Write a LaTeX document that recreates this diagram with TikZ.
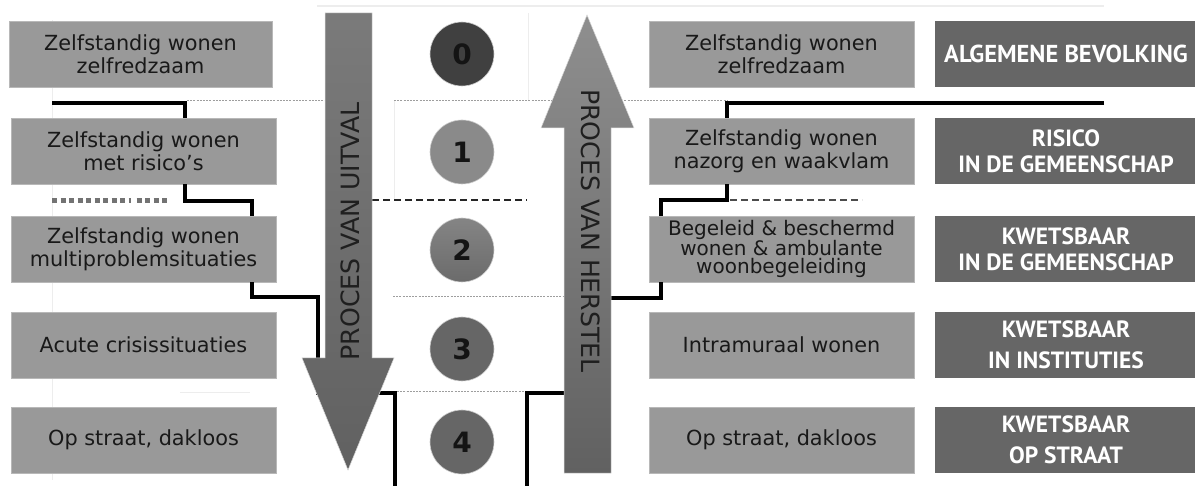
\documentclass[tikz,border=0pt]{standalone}
\usepackage{fontspec}
\setmainfont{DejaVu Sans}
\newfontfamily\capsfont{PT Sans}
\definecolor{lightbox}{gray}{0.60}
\definecolor{lightedge}{gray}{0.72}
\definecolor{darkbox}{gray}{0.40}
\definecolor{boxtext}{gray}{0.10}
\definecolor{dotgray}{gray}{0.62}
\definecolor{faint}{gray}{0.93}
\begin{document}
\begin{tikzpicture}[x=1pt,y=-1pt,
  lbox/.style={draw=lightedge, line width=0.8, fill=lightbox, minimum width=265, minimum height=66,
    inner sep=0, align=center, text=boxtext, font=\fontsize{20.8}{23}\selectfont},
  dbox/.style={fill=darkbox, minimum width=262, minimum height=66, inner sep=0, align=center,
    text=white, font=\capsfont\bfseries\fontsize{23.5}{26}\selectfont},
  num/.style={circle, minimum size=64, inner sep=0, draw=white!80!black, line width=0.6,
    font=\bfseries\fontsize{28}{28}\selectfont, text=black!92},
  conn/.style={draw=black, line width=4, line join=miter},
  dotline/.style={draw=dotgray, line width=1, dash pattern=on 2 off 1.2},
  dashblk/.style={draw=black!85, line width=1.6, dash pattern=on 7 off 4},
  arrtext/.style={inner sep=0, text=black!88, font=\fontsize{25.2}{25}\selectfont},
]
\useasboundingbox (0,0) rectangle (1195,486);

% faint guide lines
\draw[faint, line width=2] (317,6) -- (1104,6);
\draw[faint, line width=0.6] (394,100) -- (394,200);
\draw[faint, line width=0.6] (528,13) -- (528,100);
\draw[faint, line width=0.6] (52,20) -- (52,480);
\draw[faint, line width=0.6] (180,392) -- (250,392);

% dotted and dashed separators
\draw[dotline] (187,101) -- (325,101);
\draw[dotline] (394,101) -- (727,101);
\draw[dotline] (393,297) -- (564,297);
\draw[dotline] (397,392) -- (527,392);
\draw[dashblk] (372,200) -- (527,200);
\draw[dashblk, draw=black!70] (730,200) -- (862,200);
\draw[draw=black!55, line width=5, dash pattern=on 5 off 3.5 on 5 off 3.5 on 5 off 3.5 on 5 off 3.5 on 5 off 3.5 on 5 off 3.5 on 5 off 3.5 on 5 off 3.5 on 5 off 3.5 on 2 off 6] (52,201) -- (167,201);

% left boxes
\node[lbox, minimum width=263] (L0) at (140.5,54) {Zelfstandig wonen\\zelfredzaam};
\node[lbox] (L1) at (143.5,151) {Zelfstandig wonen\\met risico’s};
\node[lbox] (L2) at (143.5,249) {Zelfstandig wonen\\multiproblemsituaties};
\node[lbox] (L3) at (143.5,345) {Acute crisissituaties};
\node[lbox] (L4) at (143.5,440) {Op straat, dakloos};

% right boxes
\node[lbox] (R0) at (781.5,54) {Zelfstandig wonen\\zelfredzaam};
\node[lbox] (R1) at (781.5,151) {Zelfstandig wonen\\nazorg en waakvlam};
\node[lbox, font=\fontsize{20}{18.6}\selectfont] (R2) at (781.5,249) {Begeleid \& beschermd\\wonen \& ambulante\\woonbegeleiding};
\node[lbox] (R3) at (781.5,345) {Intramuraal wonen};
\node[lbox] (R4) at (781.5,440) {Op straat, dakloos};

% dark category boxes
\node[dbox, font=\capsfont\bfseries\fontsize{24.5}{26}\selectfont] (D0) at (1066,54) {ALGEMENE BEVOLKING};
\node[dbox] (D1) at (1066,151) {RISICO\\IN DE GEMEENSCHAP};
\node[dbox] (D2) at (1066,249) {KWETSBAAR\\IN DE GEMEENSCHAP};
\node[dbox, font=\capsfont\bfseries\fontsize{23.5}{31}\selectfont] (D3) at (1066,345) {KWETSBAAR\\IN INSTITUTIES};
\node[dbox, font=\capsfont\bfseries\fontsize{23.5}{31}\selectfont] (D4) at (1066,440) {KWETSBAAR\\OP STRAAT};

% connector coordinates
\coordinate (a1) at (52,103);
\coordinate (a2) at (185,103);
\coordinate (b1) at (185,201);
\coordinate (b2) at (252,201);
\coordinate (c1) at (252,297);
\coordinate (c2) at (318,297);
\coordinate (c3) at (318,358);
\coordinate (d0) at (316,393);
\coordinate (d1) at (395,393);
\coordinate (d2) at (395,490);
\coordinate (e0) at (1104,103);
\coordinate (e1) at (727,103);
\coordinate (f1) at (727,200);
\coordinate (f2) at (661,200);
\coordinate (g1) at (661,298);
\coordinate (g2) at (611,298);
\coordinate (h0) at (564,393);
\coordinate (h1) at (527,393);
\coordinate (h2) at (527,490);

\draw[conn] (a1) -- (a2) -- (L1.north -| a2);
\draw[conn] (L1.south -| b1) -- (b1) -- (b2) -- (L2.north -| b2);
\draw[conn] (L2.south -| c1) -- (c1) -- (c2) -- (c3);
\draw[conn] (d0) -- (d1) -- (d2);
\draw[conn] (e0) -- (e1) -- (R1.north -| e1);
\draw[conn] (R1.south -| f1) -- (f1) -- (f2) -- (R2.north -| f2);
\draw[conn] (R2.south -| g1) -- (g1) -- (g2);
\draw[conn] (h0) -- (h1) -- (h2);

% arrows
\shade[top color=black!52, bottom color=black!62, draw=white!85!black, line width=0.5]
  (325,13) -- (372,13) -- (372,358) -- (394,358) -- (348,470) -- (302,358) -- (325,358) -- cycle;
\shade[top color=black!44, bottom color=black!62, draw=white!85!black, line width=0.5]
  (587,15) -- (634,128) -- (611,128) -- (611,473) -- (564,473) -- (564,128) -- (541,128) -- cycle;
\node[arrtext, rotate=90] (uitval) at (350,231.5) {PROCES VAN UITVAL};
\node[arrtext, rotate=-90] (herstel) at (591,231) {PROCES VAN HERSTEL};

% circles
\node[num, fill=black!75] (n0) at (462,54) {0};
\node[num, fill=black!46] (n1) at (462,152) {1};
\node[num, top color=black!48, bottom color=black!58] (n2) at (462,250) {2};
\node[num, fill=black!60] (n3) at (462,349) {3};
\node[num, fill=black!60] (n4) at (462,442) {4};
\end{tikzpicture}
\end{document}
